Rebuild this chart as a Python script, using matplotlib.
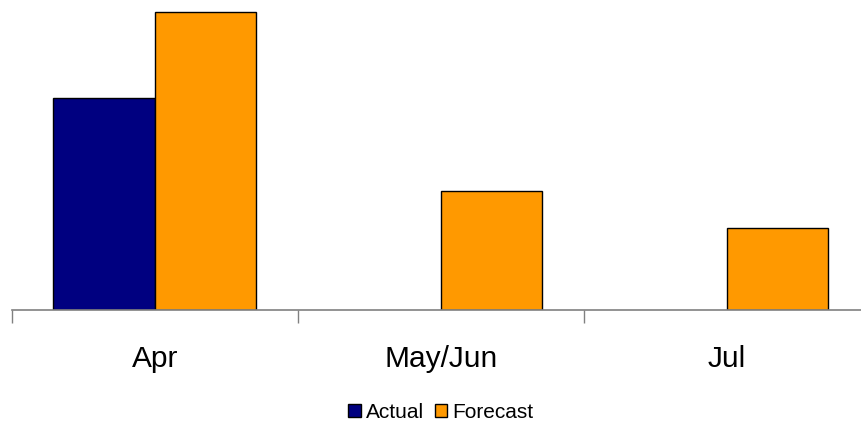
import matplotlib.pyplot as plt
import numpy as np

categories = ["Apr", "May/Jun", "Jul"]
actual = [212, 0, 0]
forecast = [298, 119, 82]

W, H = 861, 421
fig = plt.figure(figsize=(W / 100, H / 100), dpi=100)
plt.rcParams['font.family'] = ['Liberation Sans', 'DejaVu Sans']

# axes spans past the right edge, as in the original
ax = fig.add_axes([12 / W, (H - 310) / H, 857.5 / W, 310 / H])
x = np.arange(len(categories))
bw = 0.355
ax.bar(x[:1] - bw / 2, actual[:1], bw, color='#000080', edgecolor='black', linewidth=1, label='Actual')
ax.bar(x + bw / 2, forecast, bw, color='#FF9900', edgecolor='black', linewidth=1, label='Forecast')

ax.set_xlim(-0.5, 2.5)
ax.set_ylim(0, 310)
for s in ['top', 'right', 'left']:
    ax.spines[s].set_visible(False)
ax.spines['bottom'].set_color('#808080')
ax.spines['bottom'].set_linewidth(1.2)
ax.set_yticks([])
ax.set_xticks(x)
ax.set_xticklabels(categories, fontsize=21.5)
ax.tick_params(axis='x', which='major', length=0, pad=25)
ax.set_xticks(np.arange(-0.5, 3, 1), minor=True)
ax.tick_params(axis='x', which='minor', length=9, width=1, color='#808080', direction='out')

fig.legend(loc='center', bbox_to_anchor=(0.512, 1 - 412.5 / H), ncol=2, frameon=False,
           fontsize=15, handlelength=0.6, handleheight=0.6, handletextpad=0.25,
           columnspacing=0.5, borderpad=0.1)

fig.savefig('out.png', dpi=100)
